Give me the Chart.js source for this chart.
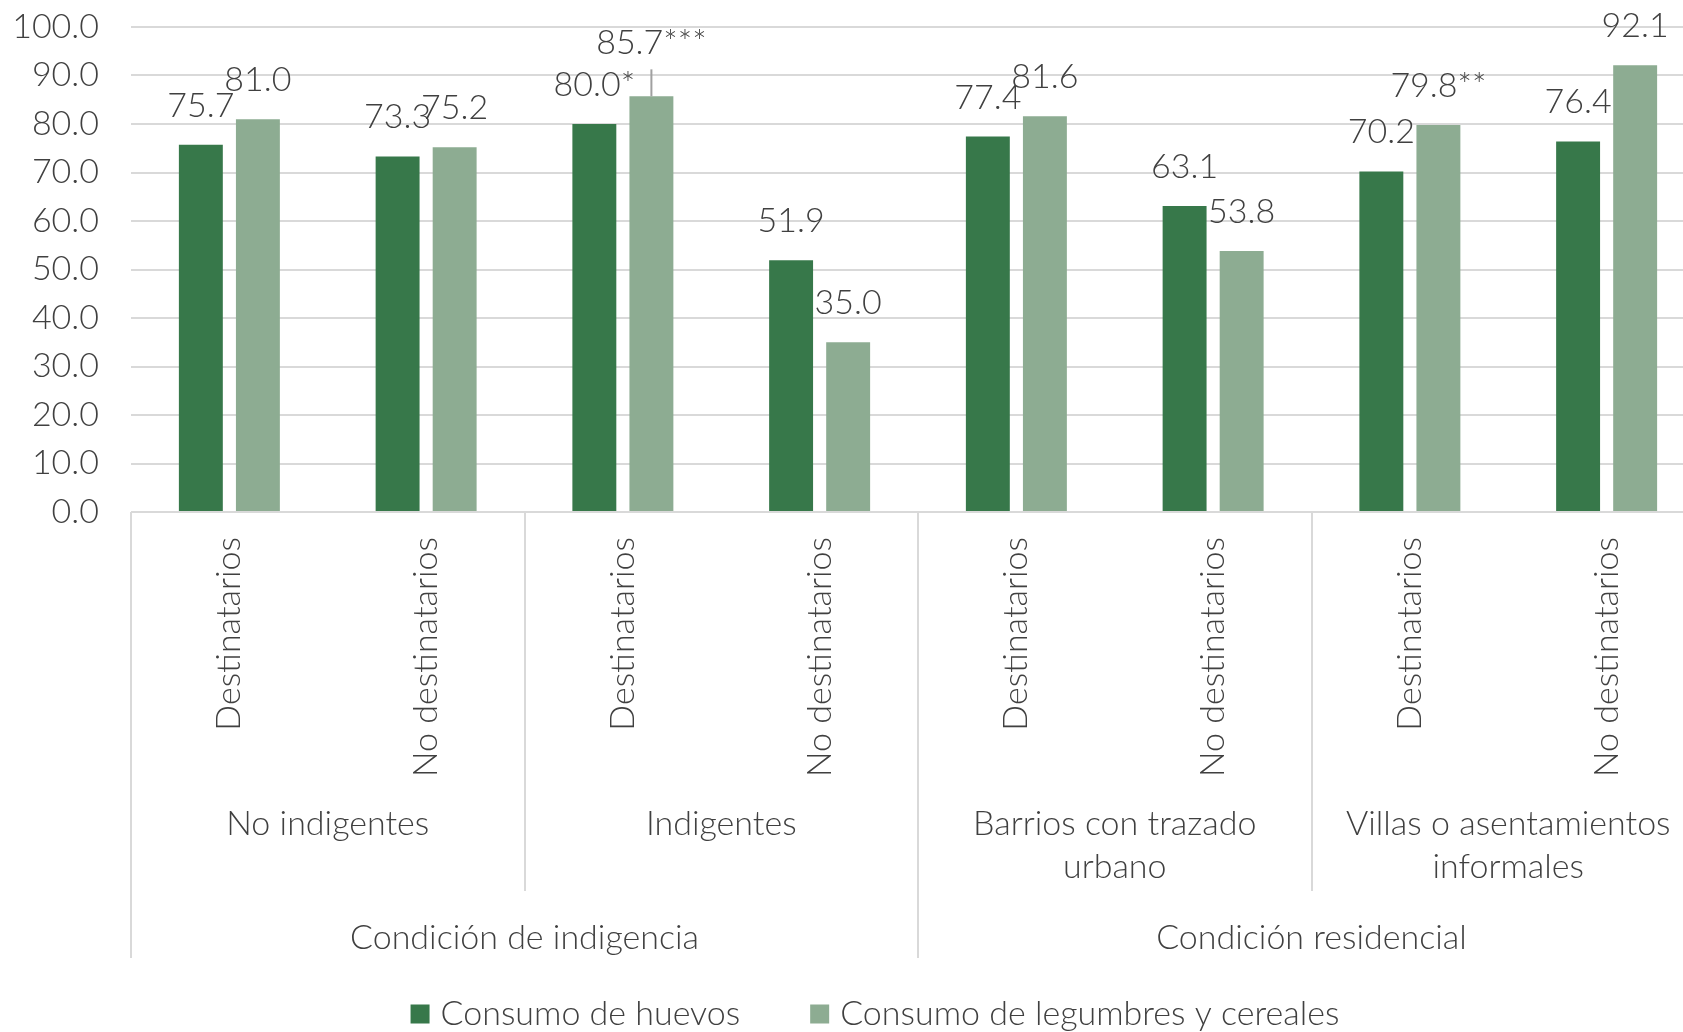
<!DOCTYPE html>
<html>
<head>
<meta charset="utf-8">
<script src="https://cdn.jsdelivr.net/npm/chart.js@4.4.0/dist/chart.umd.min.js"></script>
<style>
  html, body { margin: 0; padding: 0; background: #fff; overflow: hidden; }
  #chart { display: block; }
</style>
</head>
<body>
<canvas id="chart" width="1750" height="1032"></canvas>
<script>
// Consumo de huevos / legumbres y cereales por grupo

const categories = ['Destinatarios', 'No destinatarios', 'Destinatarios', 'No destinatarios',
                    'Destinatarios', 'No destinatarios', 'Destinatarios', 'No destinatarios'];
const groups = [['No indigentes'], ['Indigentes'], ['Barrios con trazado', 'urbano'], ['Villas o asentamientos', 'informales']];
const topGroups = ['Condición de indigencia', 'Condición residencial'];

const huevos = [75.7, 73.3, 80.0, 51.9, 77.4, 63.1, 70.2, 76.4];
const legumbres = [81.0, 75.2, 85.7, 35.0, 81.6, 53.8, 79.8, 92.1];

const huevosLabels = ['75.7', '73.3', '80.0*', '51.9', '77.4', '63.1', '70.2', '76.4'];
const legumbresLabels = ['81.0', '75.2', '85.7***', '35.0', '81.6', '53.8', '79.8**', '92.1'];

const yTicks = [0, 10, 20, 30, 40, 50, 60, 70, 80, 90, 100];

const TEXT = '#404040';
const GRID = '#d9d9d9';
const FONT = '300 34px Lato';

// labels that were moved up with a leader line in the original
const raised = { 1: [2] };

const dataLabelPlugin = {
    id: 'dataLabels',
    afterDatasetsDraw(chart) {
        const ctx = chart.ctx;
        const texts = [huevosLabels, legumbresLabels];
        ctx.save();
        ctx.font = FONT;
        ctx.fillStyle = TEXT;
        ctx.textAlign = 'center';
        ctx.textBaseline = 'middle';
        chart.data.datasets.forEach((ds, d) => {
            chart.getDatasetMeta(d).data.forEach((bar, i) => {
                const lifted = raised[d] && raised[d].includes(i);
                let y = bar.y - 39;
                if (lifted) {
                    y -= 14;
                    ctx.strokeStyle = '#a0a0a0';
                    ctx.lineWidth = 2;
                    ctx.beginPath();
                    ctx.moveTo(bar.x, bar.y);
                    ctx.lineTo(bar.x, bar.y - 27);
                    ctx.stroke();
                }
                ctx.fillText(texts[d][i], bar.x, y);
            });
        });
        ctx.restore();
    }
};

const categoryAxisPlugin = {
    id: 'categoryAxis',
    afterDraw(chart) {
        const { ctx, chartArea } = chart;
        const x = chart.scales.x;
        const base = chartArea.bottom;
        const n = categories.length;
        const edge = i => i === 0 ? chartArea.left : i === n ? chartArea.right
            : (x.getPixelForValue(i - 1) + x.getPixelForValue(i)) / 2;

        ctx.save();
        // divider lines
        ctx.strokeStyle = GRID;
        ctx.lineWidth = 2;
        for (let i = 0; i <= n; i += 2) {
            const xx = Math.round(edge(i));
            ctx.beginPath();
            ctx.moveTo(xx, base);
            ctx.lineTo(xx, base + (i % 4 === 0 ? 446 : 379));
            ctx.stroke();
        }

        ctx.font = FONT;
        ctx.fillStyle = TEXT;

        // rotated category labels
        categories.forEach((c, i) => {
            ctx.save();
            ctx.translate(x.getPixelForValue(i), base + 25);
            ctx.rotate(-Math.PI / 2);
            ctx.textAlign = 'right';
            ctx.textBaseline = 'middle';
            ctx.fillText(c, 0, 0);
            ctx.restore();
        });

        ctx.textAlign = 'center';
        ctx.textBaseline = 'middle';
        groups.forEach((lines, g) => {
            const cx = (edge(g * 2) + edge(g * 2 + 2)) / 2;
            lines.forEach((t, k) => ctx.fillText(t, cx, base + 312 + k * 43));
        });
        topGroups.forEach((t, g) => {
            const cx = (edge(g * 4) + edge(g * 4 + 4)) / 2;
            ctx.fillText(t, cx, base + 426);
        });

        // legend
        const box = 19, gap = 11, itemGap = 70;
        const items = chart.data.datasets.map(ds => ({ text: ds.label, color: ds.backgroundColor }));
        const widths = items.map(it => box + gap + ctx.measureText(it.text).width);
        const total = widths.reduce((a, b) => a + b, 0) + itemGap * (items.length - 1);
        let lx = chart.width / 2 - total / 2;
        const ly = base + 502;
        ctx.textAlign = 'left';
        items.forEach((it, k) => {
            ctx.fillStyle = it.color;
            ctx.fillRect(lx, ly - box / 2, box, box);
            ctx.fillStyle = TEXT;
            ctx.fillText(it.text, lx + box + gap, ly);
            lx += widths[k] + itemGap;
        });
        ctx.restore();
    }
};

const ctx = document.getElementById('chart').getContext('2d');

new Chart(ctx, {
    type: 'bar',
    data: {
        labels: categories,
        datasets: [{
            label: 'Consumo de huevos',
            data: huevos,
            backgroundColor: '#37784a',
            categoryPercentage: 0.58,
            barPercentage: 0.77
        }, {
            label: 'Consumo de legumbres y cereales',
            data: legumbres,
            backgroundColor: '#8dac92',
            categoryPercentage: 0.58,
            barPercentage: 0.77
        }]
    },
    options: {
        responsive: false,
        animation: false,
        devicePixelRatio: 1,
        layout: {
            padding: { top: 27, right: 45, bottom: 0, left: 0 }
        },
        plugins: {
            legend: { display: false },
            tooltip: { enabled: false }
        },
        scales: {
            x: {
                grid: { display: false },
                border: { display: false },
                ticks: { display: false },
                afterFit: scale => { scale.height = 520; }
            },
            y: {
                min: 0,
                max: 100,
                afterBuildTicks: scale => { scale.ticks = yTicks.map(v => ({ value: v })); },
                afterFit: scale => {
                    scale.width = 131;
                    // tick padding would otherwise push the plot top down
                    scale.paddingTop = 0;
                    scale.paddingBottom = 0;
                },
                grid: { color: GRID, lineWidth: 2, drawTicks: false },
                border: { display: false },
                ticks: {
                    padding: 32,
                    color: TEXT,
                    font: { family: 'Lato', size: 34, weight: '300' },
                    callback: v => v.toFixed(1)
                }
            }
        }
    },
    plugins: [dataLabelPlugin, categoryAxisPlugin]
});
</script>
</body>
</html>
